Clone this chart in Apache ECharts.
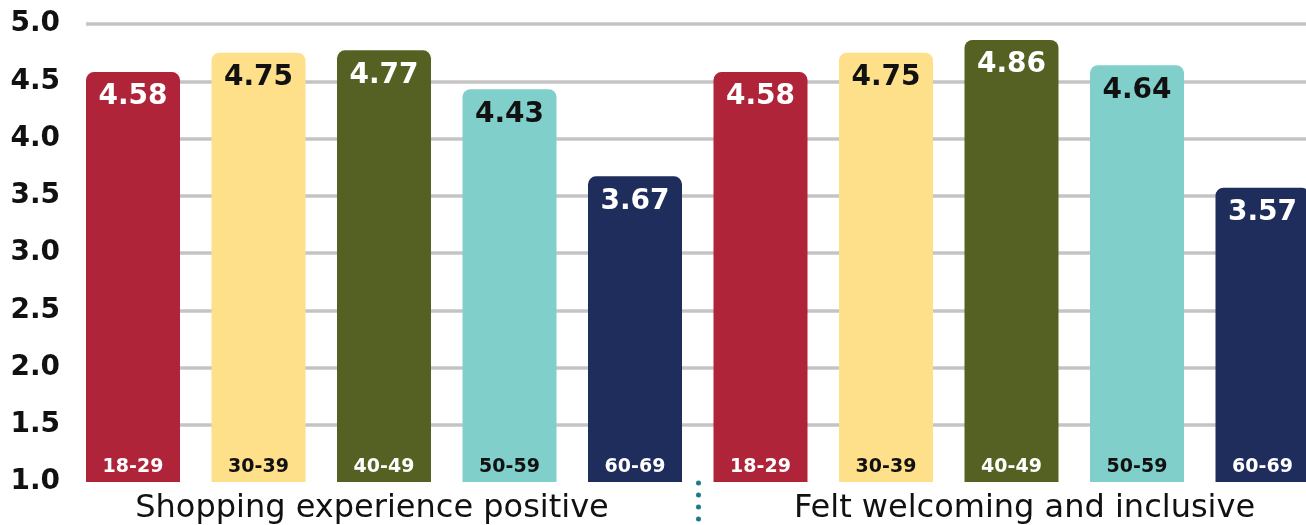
<!DOCTYPE html>
<html>
<head>
<meta charset="utf-8">
<script src="https://cdn.jsdelivr.net/npm/echarts@6/dist/echarts.min.js"></script>
<style>
  html, body { margin: 0; padding: 0; background: #fff; }
  #chart { width: 1306px; height: 525px; }
</style>
</head>
<body>
<div id="chart"></div>
<script>
// Survey questions, age bands and mean scores (1-5 scale)
const questions = ['Shopping experience positive', 'Felt welcoming and inclusive'];
const ageGroups = ['18-29', '30-39', '40-49', '50-59', '60-69'];
const shoppingScores = [4.58, 4.75, 4.77, 4.43, 3.67];
const welcomingScores = [4.58, 4.75, 4.86, 4.64, 3.57];
const yTicks = { min: 1, max: 5, step: 0.5 };

// One colour per age band, with the text colour that reads on it
const barColors = ['#B0243A', '#FEDF8A', '#556123', '#80CFCB', '#1E2D5C'];
const textColors = ['#ffffff', '#111111', '#ffffff', '#111111', '#ffffff'];

const FONT = 'DejaVu Sans';

// Layout of the bar band: ten equal slots, the last one running past the right edge
const PLOT_TOP = 24, PLOT_BOTTOM = 43;
const BAR_LEFT = 70.25, SLOT = 125.5;

const scoreSets = [shoppingScores, welcomingScores];
const barKeys = [];
const barData = [];
questions.forEach((q, qi) => {
  ageGroups.forEach((a, ai) => {
    barKeys.push(q + '|' + a);
    barData.push({
      value: scoreSets[qi][ai],
      itemStyle: { color: barColors[ai] },
      label: { color: textColors[ai] }
    });
  });
});
const slotCount = barKeys.length;

const questionStyle = { fontFamily: FONT, fontSize: 32, color: '#111111' };

const chart = echarts.init(document.getElementById('chart'), null, { renderer: 'canvas' });

chart.setOption({
  animation: false,
  backgroundColor: '#ffffff',
  grid: [
    // gridlines and value labels
    { left: 86, right: 0, top: PLOT_TOP, bottom: PLOT_BOTTOM, outerBoundsMode: 'none' },
    // bars
    { left: BAR_LEFT, width: SLOT * slotCount, top: PLOT_TOP, bottom: PLOT_BOTTOM, outerBoundsMode: 'none' },
    // dotted divider between the two questions
    { left: BAR_LEFT + SLOT * ageGroups.length, width: 1, top: 483, height: 36.5, outerBoundsMode: 'none' }
  ],
  xAxis: [
    { gridIndex: 0, type: 'value', show: false },
    {
      // bar slots; its white base line hides the 1.0 gridline
      gridIndex: 1,
      type: 'category',
      position: 'bottom',
      data: barKeys,
      z: 1,
      axisLine: { show: true, lineStyle: { color: '#ffffff', width: 4 } },
      axisTick: { show: false },
      axisLabel: { show: false }
    },
    {
      // question names under each group of bars
      gridIndex: 1,
      type: 'category',
      data: questions,
      position: 'bottom',
      axisLine: { show: false },
      axisTick: { show: false },
      axisLabel: {
        margin: 11,
        interval: 0,
        hideOverlap: false,
        ...questionStyle,
        formatter: (v, i) => (i === 0 ? '{first|' : '{second|') + v + '}',
        rich: {
          first: { ...questionStyle, padding: [0, 24, 0, 0] },
          second: { ...questionStyle, padding: [0, 0, 0, 26] }
        }
      }
    },
    {
      // age band names drawn on top of the bars
      gridIndex: 1,
      type: 'category',
      position: 'bottom',
      data: barKeys,
      z: 3,
      axisLine: { show: false },
      axisTick: { show: false },
      axisLabel: {
        inside: true,
        margin: 5,
        interval: 0,
        fontFamily: FONT,
        fontWeight: 'bold',
        fontSize: 19,
        formatter: (v) => v.split('|')[1],
        color: (v, i) => textColors[i % ageGroups.length]
      }
    },
    { gridIndex: 2, type: 'value', show: false }
  ],
  yAxis: [
    {
      gridIndex: 0,
      type: 'value',
      min: yTicks.min,
      max: yTicks.max,
      interval: yTicks.step,
      axisLine: { show: false },
      axisTick: { show: false },
      splitLine: { show: true, lineStyle: { color: '#C4C4C4', width: 3.5 } },
      axisLabel: {
        margin: 26,
        fontFamily: FONT,
        fontWeight: 'bold',
        fontSize: 28,
        color: '#111111',
        formatter: (v) => v.toFixed(1)
      }
    },
    {
      gridIndex: 1,
      type: 'value',
      min: yTicks.min,
      max: yTicks.max,
      interval: yTicks.step,
      show: false,
      splitLine: { show: false }
    },
    {
      gridIndex: 2,
      type: 'value',
      inverse: true,
      z: 2,
      axisLine: {
        show: true,
        lineStyle: { color: '#1B7A8C', width: 5, type: [0.1, 11.9], cap: 'round' }
      },
      axisTick: { show: false },
      axisLabel: { show: false },
      splitLine: { show: false }
    }
  ],
  series: [
    {
      type: 'bar',
      xAxisIndex: 1,
      yAxisIndex: 1,
      z: 2,
      barWidth: 94,
      data: barData,
      itemStyle: { borderRadius: [8, 8, 0, 0] },
      label: {
        show: true,
        position: 'insideTop',
        distance: 11,
        fontFamily: FONT,
        fontWeight: 'bold',
        fontSize: 28,
        formatter: (p) => p.value.toFixed(2)
      }
    }
  ]
});
</script>
</body>
</html>
